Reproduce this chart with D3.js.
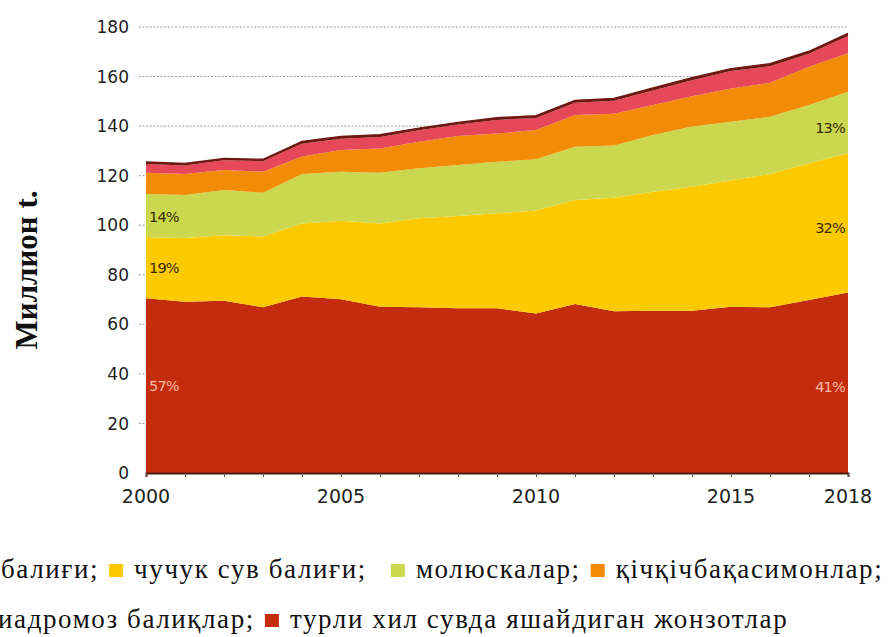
<!DOCTYPE html>
<html>
<head>
<meta charset="utf-8">
<script src="https://cdn.jsdelivr.net/npm/d3@7"></script>
<style>
  body { margin: 0; background: #fff; }
  svg { display: block; }
  .serif { font-family: "Liberation Serif", "Tinos", "Times New Roman", "Times", "Nimbus Roman", "Noto Serif", "DejaVu Serif", "FreeSerif", serif; }
</style>
</head>
<body>
<svg id="chart" width="892" height="637"></svg>
<script>
// Years on the x axis
const years = [2000, 2001, 2002, 2003, 2004, 2005, 2006, 2007, 2008, 2009,
  2010, 2011, 2012, 2013, 2014, 2015, 2016, 2017, 2018]

// Series values, million t, bottom to top
const variousAquatic = [70.5, 69.1, 69.5, 66.9, 71.2, 70.1, 67.1, 66.9, 66.5, 66.5,
  64.4, 68.2, 65.3, 65.5, 65.5, 67.1, 66.9, 69.8, 72.8]
const freshwaterFish = [24.6, 25.7, 26.5, 28.5, 29.5, 31.7, 33.6, 35.9, 37.2, 38.3,
  41.5, 42.0, 45.8, 48.0, 50.0, 51.1, 53.8, 55.2, 56.2]
const molluscs = [17.5, 17.4, 18.2, 17.7, 20.0, 19.8, 20.5, 20.2, 20.6, 20.8,
  20.7, 21.5, 21.1, 22.9, 24.3, 23.6, 23.1, 23.5, 24.9]
const crustaceans = [8.6, 8.5, 8.1, 8.5, 7.0, 8.8, 9.8, 10.7, 11.7, 11.4,
  11.8, 12.8, 12.8, 12.1, 12.3, 13.4, 13.7, 15.5, 15.5]
const diadromousFish = [3.5, 3.4, 3.9, 4.2, 5.2, 4.5, 4.6, 4.6, 4.6, 5.5,
  4.9, 4.9, 5.2, 5.9, 6.4, 7.0, 6.7, 5.2, 7.0]
const marineFish = [0.8, 0.8, 0.7, 0.8, 0.9, 0.9, 0.9, 0.9, 0.9, 0.9,
  0.9, 1.0, 1.0, 1.0, 1.0, 1.0, 1.0, 1.0, 1.0]

// Tick labels
const yTicks = [0, 20, 40, 60, 80, 100, 120, 140, 160, 180]
const xTickLabels = [2000, 2005, 2010, 2015, 2018]

// Share labels printed on the areas
const shareLabels = [
  { text: "14%", year: 2000, value: 103.4, anchor: "start", light: false },
  { text: "19%", year: 2000, value: 82.7, anchor: "start", light: false },
  { text: "57%", year: 2000, value: 35.1, anchor: "start", light: true },
  { text: "13%", year: 2018, value: 139.2, anchor: "end", light: false },
  { text: "32%", year: 2018, value: 98.9, anchor: "end", light: false },
  { text: "41%", year: 2018, value: 34.8, anchor: "end", light: true },
]

// Legend rows (the reference is cut off on the left)
const legendRow1 = [
  { key: null, label: "балиғи;" },
  { key: "freshwaterFish", label: "чучук сув балиғи;" },
  { key: "molluscs", label: "молюскалар;", extraGap: 14 },
  { key: "crustaceans", label: "қічқічбақасимонлар;" },
]
const legendRow2 = [
  { key: null, label: "диадромоз балиқлар;", clipFirst: true },
  { key: "variousAquatic", label: "турли хил сувда яшайдиган жонзотлар" },
]

const keys = ["variousAquatic", "freshwaterFish", "molluscs", "crustaceans", "diadromousFish", "marineFish"]
const colors = {
  variousAquatic: "#c42c0e",
  freshwaterFish: "#fdc900",
  molluscs: "#cbd74e",
  crustaceans: "#f28b05",
  diadromousFish: "#e6485a",
  marineFish: "#6e1812",
}

// Build table for the stack
const seriesByKey = { variousAquatic, freshwaterFish, molluscs, crustaceans, diadromousFish, marineFish }
const table = years.map((year, i) => {
  const row = { year }
  keys.forEach((k) => (row[k] = seriesByKey[k][i]))
  return row
})
const stacked = d3.stack().keys(keys)(table)

const svg = d3.select("#chart")

// Scales
const x = d3.scaleLinear().domain([2000, 2018]).range([146, 848])
const y = d3.scaleLinear().domain([0, 180]).range([473, 27])

// Dotted gridlines (only the top ones show above the areas)
svg
  .append("g")
  .selectAll("line")
  .data(yTicks.filter((t) => t > 0))
  .join("line")
  .attr("x1", 139)
  .attr("x2", x(2018))
  .attr("y1", (d) => y(d))
  .attr("y2", (d) => y(d))
  .attr("stroke", "#9a9a9a")
  .attr("stroke-width", 1)
  .attr("stroke-dasharray", "2,1.6")

// Stacked areas
const area = d3
  .area()
  .x((d) => x(d.data.year))
  .y0((d) => y(d[0]))
  .y1((d) => y(d[1]))

svg
  .append("g")
  .selectAll("path")
  .data(stacked)
  .join("path")
  .attr("d", area)
  .attr("fill", (d) => colors[d.key])

// Dark edge on top of the total
const topLine = d3
  .line()
  .x((d) => x(d.data.year))
  .y((d) => y(d[1]))
svg
  .append("path")
  .datum(stacked[stacked.length - 1])
  .attr("d", topLine)
  .attr("fill", "none")
  .attr("stroke", colors.marineFish)
  .attr("stroke-width", 1.4)

// X axis: baseline, year ticks and labels
const xAxis = svg.append("g").attr("transform", `translate(0, ${y(0)})`)
xAxis
  .call(d3.axisBottom(x).tickValues(years).tickSize(4).tickFormat(""))
  .call((g) => g.select(".domain").attr("stroke", "#4a1a0c").attr("stroke-width", 2))
  .call((g) => g.selectAll(".tick line").attr("stroke", "#555"))
xAxis
  .selectAll("text.year")
  .data(xTickLabels)
  .join("text")
  .attr("class", "year")
  .attr("x", (d) => x(d))
  .attr("y", 30)
  .attr("text-anchor", "middle")
  .style("font-family", "DejaVu Sans")
  .style("font-size", "19px")
  .style("fill", "#222")
  .text((d) => d)

// Y axis labels
svg
  .append("g")
  .selectAll("text")
  .data(yTicks)
  .join("text")
  .attr("x", 129)
  .attr("y", (d) => y(d))
  .attr("dy", "0.36em")
  .attr("text-anchor", "end")
  .style("font-family", "DejaVu Sans")
  .style("font-size", "17px")
  .style("fill", "#222")
  .text((d) => d)

// Y axis title
svg
  .append("text")
  .attr("class", "serif")
  .attr("transform", "translate(37, 270) rotate(-90)")
  .attr("text-anchor", "middle")
  .style("font-weight", "bold")
  .style("font-size", "31px")
  .style("fill", "#111")
  .text("Миллион t.")

// Share labels
svg
  .append("g")
  .selectAll("text")
  .data(shareLabels)
  .join("text")
  .attr("x", (d) => x(d.year) + (d.anchor === "start" ? 3 : -3))
  .attr("y", (d) => y(d.value))
  .attr("dy", "0.36em")
  .attr("text-anchor", (d) => d.anchor)
  .style("font-family", "DejaVu Sans")
  .style("font-size", "14.5px")
  .style("letter-spacing", "-0.8px")
  .style("fill", (d) => (d.light ? "#f6b9a0" : "#3b2c05"))
  .text((d) => d.text)

// Legend: swatches and labels flowed along each row
function drawLegendRow(items, startX, baseline) {
  let cursor = startX
  items.forEach((item) => {
    if (item.key) {
      cursor += 10 + (item.extraGap || 0)
      svg
        .append("rect")
        .attr("x", cursor)
        .attr("y", baseline - 14)
        .attr("width", 14)
        .attr("height", 13)
        .attr("fill", colors[item.key])
      cursor += 25
    }
    const t = svg
      .append("text")
      .attr("class", "serif")
      .attr("x", cursor)
      .attr("y", baseline)
      .style("font-size", "27px")
      .style("letter-spacing", "1.6px")
      .style("fill", "#111")
      .text(item.label)
    if (item.clipFirst) {
      // push the first letter past the left edge, like the cut-off original
      const firstWidth = t.node().getSubStringLength(0, 1)
      cursor -= firstWidth + 2
      t.attr("x", cursor)
    }
    cursor += t.node().getComputedTextLength()
  })
}
drawLegendRow(legendRow1, 1, 578)
drawLegendRow(legendRow2, 0, 628)
</script>
</body>
</html>
